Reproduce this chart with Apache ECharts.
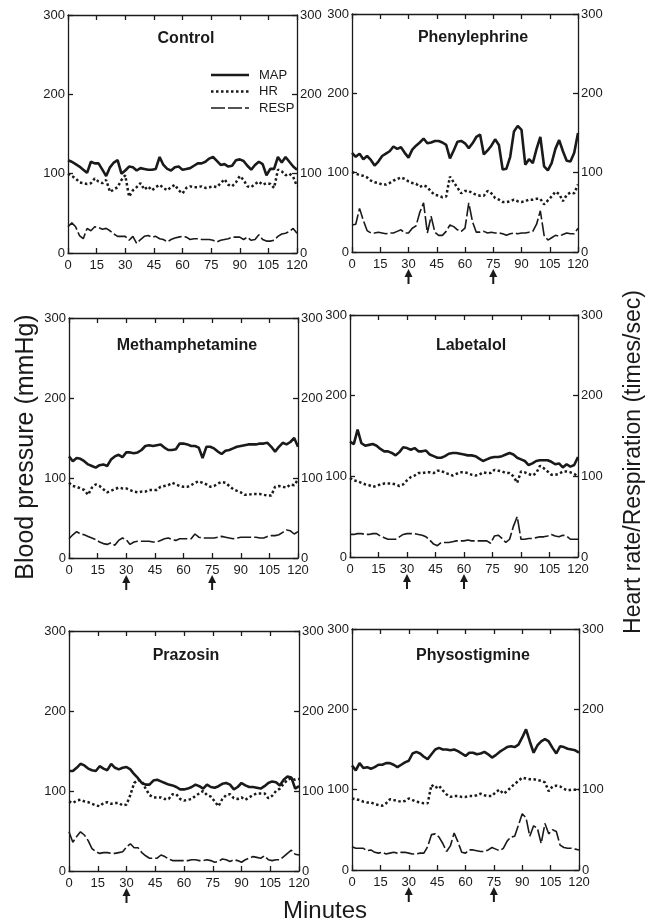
<!DOCTYPE html>
<html>
<head>
<meta charset="utf-8">
<script src="https://cdn.jsdelivr.net/npm/echarts@6/dist/echarts.min.js"></script>
<style>
html, body {margin: 0; padding: 0; background: #fff;}
#main {width: 657px; height: 924px;}
</style>
</head>
<body>
<div id="main"></div>
<script>
/* time points (minutes) */
let minutes = [0,2,4,6,8,10,12,14,16,18,20,22,24,26,28,30,32,34,36,38,40,42,44,46,48,50,52,54,56,58,
  60,62,64,66,68,70,72,74,76,78,80,82,84,86,88,90,92,94,96,98,100,102,104,106,108,110,112,114,116,118,120];

/* Control */
let controlMap = [117,115,112,109,105,101,115,113,113,105, 97,108,114,117,100,104,109,108,104,107,
  106,105,105,106,121,111,106,104,108,109, 105,106,107,110,113,113,115,119,121,116,
  111,112,109,110,117,118,116,110,105,111, 115,112,98,106,106,121,114,121,115,109, 105];
let controlHr = [100,97,94,89,88,87,88,94,90,88, 92,77,80,83,92,98,71,79,83,88,
  80,84,79,83,86,82,79,83,86,79, 75,82,84,83,83,84,82,83,84,83,
  88,93,86,84,89,97,92,84,83,87, 90,86,88,87,82,105,103,98,100,96, 84];
let controlResp = [33,38,33,22,18,31,28,33,32,30, 31,28,24,21,21,21,16,21,12,17,
  21,22,20,21,18,17,14,17,19,20, 21,20,17,18,18,17,17,17,16,14,
  16,17,18,20,20,20,17,20,16,17, 23,17,15,15,16,21,24,25,27,31, 25];

/* Phenylephrine */
let phenMap = [125,120,124,117,121,116,109,114,121,124, 127,133,130,132,125,119,129,134,138,143,
  137,138,140,140,138,135,118,128,139,140, 137,131,137,145,148,123,128,134,142,135,
  104,105,120,152,159,154,110,117,112,130, 145,108,103,112,130,141,127,115,114,125, 150];
let phenHr = [101,99,97,96,94,90,88,87,85,85, 87,90,92,94,92,89,87,86,82,84,
  82,76,72,71,69,70,95,88,81,74, 77,77,74,72,71,71,77,74,68,66,
  63,63,64,66,64,63,64,66,66,67, 67,60,65,70,76,73,64,72,75,74, 85];
let phenResp = [34,35,55,40,27,24,24,25,24,23, 24,24,26,28,24,24,30,33,50,62,
  24,45,25,21,21,26,34,32,28,26, 30,62,38,25,25,26,24,25,24,24,
  23,21,23,24,23,24,24,25,26,35, 52,21,15,18,21,20,22,24,23,23, 30];

/* Methamphetamine */
let methMap = [127,121,125,124,121,117,115,113,116,117, 115,123,127,129,126,132,132,131,132,135,
  140,141,140,141,142,138,135,135,136,143, 143,142,140,140,138,125,139,139,137,133,
  130,134,135,137,139,140,141,142,142,142, 143,143,144,139,133,139,144,142,145,150, 139];
let methHr = [94,90,89,87,85,79,88,92,90,86, 82,84,86,88,87,87,85,83,82,83,
  83,85,85,85,89,90,91,94,92,90, 89,89,91,94,96,94,92,89,90,93,
  95,94,90,86,84,82,79,79,80,80, 80,79,78,78,89,90,89,88,92,91, 98];
let methResp = [24,29,33,30,29,27,25,23,20,18, 17,19,16,22,25,23,17,20,21,21,
  21,21,20,20,22,24,25,23,22,24, 24,24,24,30,26,25,25,25,25,26,
  27,26,25,24,25,26,26,26,26,26, 25,25,27,28,28,29,32,35,34,30, 33];

/* Labetalol */
let labMap = [143,140,158,141,138,139,140,138,134,131, 131,129,126,130,136,135,133,135,131,131,
  132,127,125,123,123,125,128,129,129,128, 127,126,126,125,122,119,121,123,124,124,
  125,127,129,127,123,121,119,114,116,119, 120,120,120,118,115,116,111,115,112,114, 124];
let labHr = [98,95,94,92,90,89,87,88,90,91, 91,91,90,88,90,95,99,101,104,104,
  105,105,104,107,107,104,103,101,103,105, 105,104,102,101,102,105,104,104,108,107,
  106,104,104,100,92,106,105,103,101,104, 113,110,106,102,102,103,106,106,105,103, 100];
let labResp = [28,28,29,29,28,28,29,29,26,24, 22,22,22,25,28,29,29,29,28,27,
  25,21,16,14,18,18,18,19,20,20, 20,21,20,20,20,20,20,17,26,27,
  23,18,22,38,50,22,22,23,23,24, 25,25,26,28,26,25,27,26,22,22, 22];

/* Prazosin */
let prazMap = [125,125,129,134,132,128,126,125,131,128, 126,134,129,127,129,130,127,121,116,110,
  108,108,113,114,112,110,108,107,105,102, 102,103,105,108,106,103,108,105,104,106,
  109,110,108,102,105,110,107,105,105,104, 103,106,110,112,111,107,114,118,117,103, 106];
let prazHr = [87,85,88,89,87,86,84,82,81,85, 86,84,85,85,82,83,95,110,114,112,
  103,95,92,92,92,90,90,96,96,90, 88,89,90,94,97,100,95,93,87,81,
  90,95,96,91,90,92,89,92,95,97, 97,97,91,94,100,103,109,114,116,114, 115];
let prazResp = [49,36,43,49,45,38,28,24,22,23, 23,22,22,23,24,30,34,29,29,23,
  19,16,16,16,20,18,15,13,13,13, 13,13,14,14,13,13,14,13,11,12,
  15,14,12,14,13,11,14,16,18,17, 16,19,14,13,14,14,18,22,26,21, 20];

/* Physostigmine */
let physMap = [130,124,133,127,128,126,128,131,131,133, 133,131,128,131,134,136,145,147,145,141,
  138,144,150,152,150,150,149,150,148,145, 142,146,146,144,145,147,144,140,143,147,
  150,153,154,153,156,165,175,160,146,155, 160,163,160,152,145,154,153,151,150,149, 146];
let physHr = [89,88,87,85,84,84,82,81,80,83, 88,87,86,85,86,89,87,85,84,83,
  83,106,102,105,99,94,91,92,92,91, 91,92,92,93,95,93,92,92,97,100,
  95,98,103,107,111,115,114,113,113,112, 111,109,98,104,105,104,101,99,100,100, 100];
let physResp = [29,27,27,27,24,25,22,21,22,20, 21,22,21,22,22,21,20,20,21,21,
  29,44,45,41,33,23,30,46,35,22, 21,25,25,24,23,23,25,28,26,24,
  27,36,41,42,56,70,65,42,55,52, 33,58,45,50,48,31,28,27,27,26, 25];

/* injection arrows (minutes) */
let arrowsControl = [];
let arrowsPhen = [30, 75];
let arrowsMeth = [30, 75];
let arrowsLab = [30, 60];
let arrowsPraz = [30];
let arrowsPhys = [30, 75];

let seriesNames = ['MAP', 'HR', 'RESP'];

let panels = [
  {title: 'Control', map: controlMap, hr: controlHr, resp: controlResp, arrows: arrowsControl},
  {title: 'Phenylephrine', map: phenMap, hr: phenHr, resp: phenResp, arrows: arrowsPhen},
  {title: 'Methamphetamine', map: methMap, hr: methHr, resp: methResp, arrows: arrowsMeth},
  {title: 'Labetalol', map: labMap, hr: labHr, resp: labResp, arrows: arrowsLab},
  {title: 'Prazosin', map: prazMap, hr: prazHr, resp: prazResp, arrows: arrowsPraz},
  {title: 'Physostigmine', map: physMap, hr: physHr, resp: physResp, arrows: arrowsPhys}
];

/* grid boxes in pixels */
let boxes = [
  {left: 68, top: 15, width: 229, height: 238, titleX: 186, titleY: 31},
  {left: 352, top: 14, width: 226, height: 238, titleX: 473, titleY: 30},
  {left: 69, top: 318, width: 229, height: 240, titleX: 187, titleY: 338},
  {left: 350, top: 315, width: 228, height: 242, titleX: 471, titleY: 338},
  {left: 69, top: 631, width: 230, height: 240, titleX: 186, titleY: 648},
  {left: 352, top: 629, width: 227, height: 241, titleX: 473, titleY: 648}
];

let font = 'Liberation Sans';
let ink = '#1a1a1a';

/* line styles: MAP thick solid, HR dotted, RESP long dash */
let lineStyles = [
  {color: ink, width: 2.6},
  {color: ink, width: 2.5, type: [2.5, 2.5]},
  {color: ink, width: 1.6, type: [14, 3]}
];

let myChart = echarts.init(document.getElementById('main'));
let option = {
  animation: false,
  textStyle: {fontFamily: font},
  title: [], grid: [], xAxis: [], yAxis: [], series: [],
  graphic: [
    {type: 'text', x: 26, y: 447, rotation: Math.PI / 2,
     style: {text: 'Blood pressure (mmHg)', font: '25px "Liberation Sans"', fill: ink,
             align: 'center', verticalAlign: 'middle', textAlign: 'center', textVerticalAlign: 'middle'}},
    {type: 'text', x: 634, y: 462, rotation: Math.PI / 2,
     style: {text: 'Heart rate/Respiration (times/sec)', font: '23px "Liberation Sans"', fill: ink,
             align: 'center', verticalAlign: 'middle', textAlign: 'center', textVerticalAlign: 'middle'}},
    {type: 'text', x: 325, y: 911,
     style: {text: 'Minutes', font: '24px "Liberation Sans"', fill: ink,
             align: 'center', verticalAlign: 'middle', textAlign: 'center', textVerticalAlign: 'middle'}}
  ]
};

// legend of the Control panel, drawn by hand so the icons are plain line samples
seriesNames.forEach(function (name, k) {
  let y = 75 + k * 16.5;
  let ls = lineStyles[k];
  option.graphic.push({type: 'line', shape: {x1: 211, y1: y, x2: 249, y2: y},
    style: {stroke: ls.color, lineWidth: ls.width, lineDash: ls.type || null}});
  option.graphic.push({type: 'text', x: 259, y: y,
    style: {text: name, font: '13px "Liberation Sans"', fill: ink,
            align: 'left', verticalAlign: 'middle', textAlign: 'left', textVerticalAlign: 'middle'}});
});

let axisLine = {show: true, onZero: false, lineStyle: {color: ink, width: 1.3}};
let tick = {show: true, inside: true, length: 5, lineStyle: {color: ink, width: 1.3}};
let label = {fontSize: 13, color: ink, fontFamily: font};

// строим шесть панелей
panels.forEach(function (p, i) {
  let b = boxes[i];
  option.grid.push({left: b.left, top: b.top, width: b.width, height: b.height});
  option.title.push({
    text: p.title, left: b.titleX, top: b.titleY, textAlign: 'center', padding: 0,
    textStyle: {fontSize: 16, fontWeight: 'bold', color: ink, fontFamily: font}
  });

  // bottom and top x axes
  option.xAxis.push({
    type: 'value', gridIndex: i, min: 0, max: 120, interval: 15, position: 'bottom',
    axisLine: axisLine, axisTick: tick, splitLine: {show: false},
    axisLabel: Object.assign({margin: 6}, label)
  });
  option.xAxis.push({
    type: 'value', gridIndex: i, min: 0, max: 120, interval: 15, position: 'top',
    axisLine: axisLine, axisTick: tick, splitLine: {show: false}, axisLabel: {show: false}
  });
  // left (blood pressure) and right (HR / respiration) y axes
  option.yAxis.push({
    type: 'value', gridIndex: i, min: 0, max: 300, interval: 100, position: 'left',
    axisLine: axisLine, axisTick: tick, splitLine: {show: false},
    axisLabel: Object.assign({margin: 3}, label)
  });
  option.yAxis.push({
    type: 'value', gridIndex: i, min: 0, max: 300, interval: 100, position: 'right',
    axisLine: axisLine, axisTick: tick, splitLine: {show: false},
    axisLabel: Object.assign({margin: 3}, label)
  });

  let pairs = function (arr) {
    return minutes.map(function (t, k) { return [t, arr[k]]; });
  };
  let values = [p.map, p.hr, p.resp];

  values.forEach(function (arr, k) {
    option.series.push({
      name: seriesNames[k], type: 'line', xAxisIndex: 2 * i,
      yAxisIndex: k === 0 ? 2 * i : 2 * i + 1,
      data: pairs(arr), symbol: 'none', silent: true,
      lineStyle: lineStyles[k], itemStyle: {color: ink}
    });
  });

  // arrows under the x axis
  if (p.arrows.length) {
    option.series.push({
      type: 'custom', xAxisIndex: 2 * i, yAxisIndex: 2 * i, silent: true,
      data: p.arrows.map(function (t) { return [t, 0]; }),
      renderItem: function (params, api) {
        let pt = api.coord([api.value(0), 0]);
        let x = pt[0], y = pt[1];
        return {
          type: 'group',
          children: [
            {type: 'polygon', shape: {points: [[x, y + 17], [x - 4, y + 25], [x + 4, y + 25]]}, style: {fill: ink}},
            {type: 'line', shape: {x1: x, y1: y + 23, x2: x, y2: y + 32}, style: {stroke: ink, lineWidth: 2}}
          ]
        };
      }
    });
  }
});

myChart.setOption(option);
</script>
</body>
</html>
